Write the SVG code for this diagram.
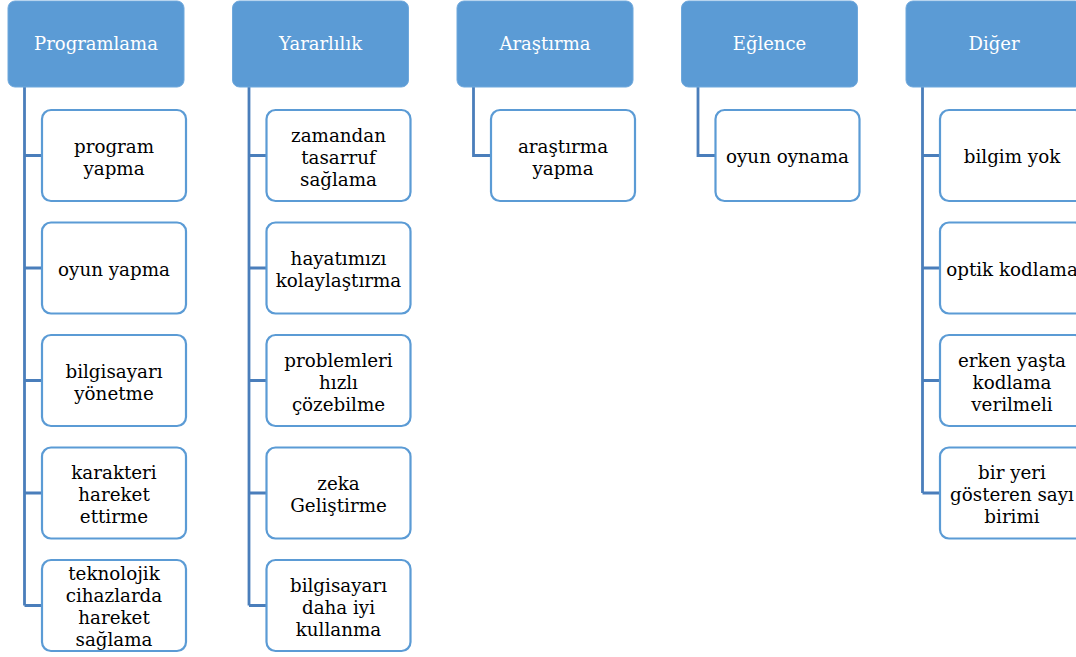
<svg xmlns="http://www.w3.org/2000/svg" width="1076" height="657" viewBox="0 0 1076 657">
<style>
.hdr{fill:#5B9BD5;stroke:#6FA8DC;stroke-width:1}
.ch{fill:#FFFFFF;stroke:#5B9BD5;stroke-width:2.2}
.ht{font-family:"DejaVu Serif","Liberation Serif",serif;font-size:18px;fill:#FFFFFF;text-anchor:middle}
.ct{font-family:"DejaVu Serif","Liberation Serif",serif;font-size:18.3px;fill:#000000;text-anchor:middle}
.con{fill:none;stroke:#4A7EBB;stroke-width:2.8}
</style>
<rect width="1076" height="657" fill="#FFFFFF"/>
<g id="connectors">
<path class="con" d="M24.5,86 V605.5 M24.5,155.5 H42 M24.5,268 H42 M24.5,380.5 H42 M24.5,493 H42 M24.5,605.5 H42"/>
<path class="con" d="M249,86 V605.5 M249,155.5 H266.5 M249,268 H266.5 M249,380.5 H266.5 M249,493 H266.5 M249,605.5 H266.5"/>
<path class="con" d="M473.5,86 V155.5 H491"/>
<path class="con" d="M698,86 V155.5 H715.5"/>
<path class="con" d="M922.5,86 V493 M922.5,155.5 H940 M922.5,268 H940 M922.5,380.5 H940 M922.5,493 H940"/>
</g>
<g id="h1"><rect class="hdr" x="8" y="1" width="176" height="86" rx="7"/><text class="ht" x="96" y="50">Programlama</text></g>
<g id="h2"><rect class="hdr" x="232.5" y="1" width="176" height="86" rx="7"/><text class="ht" x="320.5" y="50">Yararlılık</text></g>
<g id="h3"><rect class="hdr" x="457" y="1" width="176" height="86" rx="7"/><text class="ht" x="545" y="50">Araştırma</text></g>
<g id="h4"><rect class="hdr" x="681.5" y="1" width="176" height="86" rx="7"/><text class="ht" x="769.5" y="50">Eğlence</text></g>
<g id="h5"><rect class="hdr" x="906" y="1" width="176" height="86" rx="7"/><text class="ht" x="994" y="50">Diğer</text></g>

<g id="c1a"><rect class="ch" x="42" y="110" width="144" height="91" rx="9"/><text class="ct" x="114" y="152.5">program</text><text class="ct" x="114" y="174.5">yapma</text></g>
<g id="c1b"><rect class="ch" x="42" y="222.5" width="144" height="91" rx="9"/><text class="ct" x="114" y="275.5">oyun yapma</text></g>
<g id="c1c"><rect class="ch" x="42" y="335" width="144" height="91" rx="9"/><text class="ct" x="114" y="377.5">bilgisayarı</text><text class="ct" x="114" y="399.5">yönetme</text></g>
<g id="c1d"><rect class="ch" x="42" y="447.5" width="144" height="91" rx="9"/><text class="ct" x="114" y="479">karakteri</text><text class="ct" x="114" y="501">hareket</text><text class="ct" x="114" y="523">ettirme</text></g>
<g id="c1e"><rect class="ch" x="42" y="560" width="144" height="91" rx="9"/><text class="ct" x="114" y="579.5">teknolojik</text><text class="ct" x="114" y="601.5">cihazlarda</text><text class="ct" x="114" y="623.5">hareket</text><text class="ct" x="114" y="645.5">sağlama</text></g>

<g id="c2a"><rect class="ch" x="266.5" y="110" width="144" height="91" rx="9"/><text class="ct" x="338.5" y="141.5">zamandan</text><text class="ct" x="338.5" y="163.5">tasarruf</text><text class="ct" x="338.5" y="185.5">sağlama</text></g>
<g id="c2b"><rect class="ch" x="266.5" y="222.5" width="144" height="91" rx="9"/><text class="ct" x="338.5" y="265">hayatımızı</text><text class="ct" x="338.5" y="287">kolaylaştırma</text></g>
<g id="c2c"><rect class="ch" x="266.5" y="335" width="144" height="91" rx="9"/><text class="ct" x="338.5" y="366.5">problemleri</text><text class="ct" x="338.5" y="388.5">hızlı</text><text class="ct" x="338.5" y="410.5">çözebilme</text></g>
<g id="c2d"><rect class="ch" x="266.5" y="447.5" width="144" height="91" rx="9"/><text class="ct" x="338.5" y="490">zeka</text><text class="ct" x="338.5" y="512">Geliştirme</text></g>
<g id="c2e"><rect class="ch" x="266.5" y="560" width="144" height="91" rx="9"/><text class="ct" x="338.5" y="591.5">bilgisayarı</text><text class="ct" x="338.5" y="613.5">daha iyi</text><text class="ct" x="338.5" y="635.5">kullanma</text></g>

<g id="c3a"><rect class="ch" x="491" y="110" width="144" height="91" rx="9"/><text class="ct" x="563" y="152.5">araştırma</text><text class="ct" x="563" y="174.5">yapma</text></g>

<g id="c4a"><rect class="ch" x="715.5" y="110" width="144" height="91" rx="9"/><text class="ct" x="787.5" y="163">oyun oynama</text></g>

<g id="c5a"><rect class="ch" x="940" y="110" width="144" height="91" rx="9"/><text class="ct" x="1012" y="163">bilgim yok</text></g>
<g id="c5b"><rect class="ch" x="940" y="222.5" width="144" height="91" rx="9"/><text class="ct" x="1012" y="275.5">optik kodlama</text></g>
<g id="c5c"><rect class="ch" x="940" y="335" width="144" height="91" rx="9"/><text class="ct" x="1012" y="366.5">erken yaşta</text><text class="ct" x="1012" y="388.5">kodlama</text><text class="ct" x="1012" y="410.5">verilmeli</text></g>
<g id="c5d"><rect class="ch" x="940" y="447.5" width="144" height="91" rx="9"/><text class="ct" x="1012" y="479">bir yeri</text><text class="ct" x="1012" y="501">gösteren sayı</text><text class="ct" x="1012" y="523">birimi</text></g>
</svg>
